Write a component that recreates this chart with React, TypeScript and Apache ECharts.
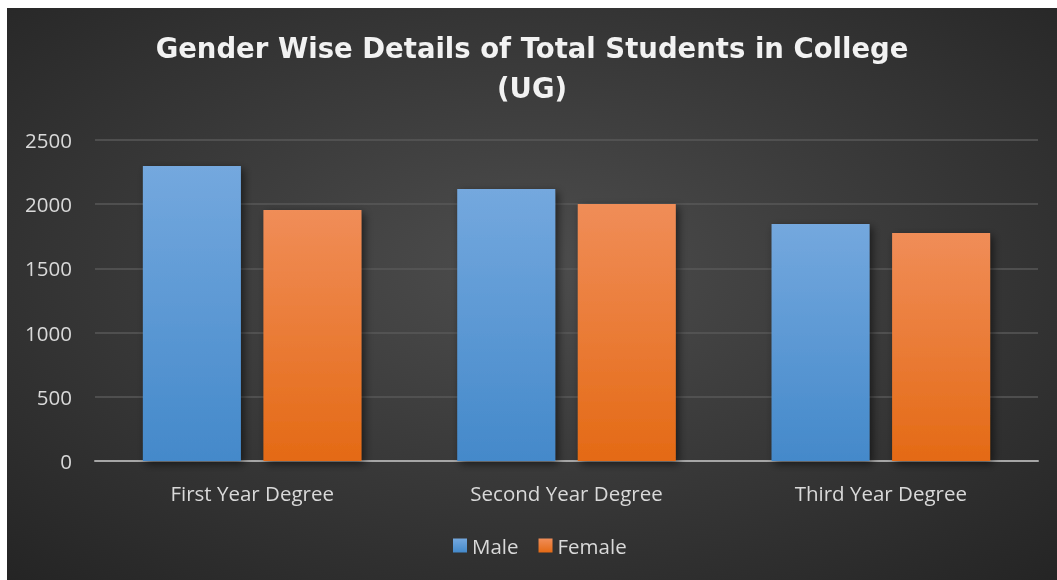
import React, { useEffect, useRef } from "react";
import * as echarts from "echarts";

const categories = ["First Year Degree", "Second Year Degree", "Third Year Degree"];
const maleValues = [2297, 2118, 1846];
const femaleValues = [1955, 2001, 1776];
const seriesNames = ["Male", "Female"];
const yTicks = [0, 500, 1000, 1500, 2000, 2500];

const labelFont = "'Open Sans', sans-serif";

export default function App() {
  const ref = useRef<HTMLDivElement>(null);
  useEffect(() => {
    if (!ref.current) return;
    const chart = echarts.init(ref.current, null, { renderer: "svg" });
    const lin = (top: string, bottom: string) =>
      new echarts.graphic.LinearGradient(0, 0, 0, 1, [
        { offset: 0, color: top },
        { offset: 1, color: bottom },
      ]);
    const shadow = {
      shadowColor: "rgba(0,0,0,0.55)",
      shadowBlur: 8,
      shadowOffsetX: 3,
      shadowOffsetY: 3,
    };
    chart.setOption({
      animation: false,
      backgroundColor: new echarts.graphic.RadialGradient(0.5, 0.45, 0.75, [
        { offset: 0, color: "#4d4d4d" },
        { offset: 1, color: "#242424" },
      ]),
      title: {
        text: "Gender Wise Details of Total Students in College\n(UG)",
        left: "center",
        top: 15,
        textStyle: {
          color: "#f2f2f2",
          fontFamily: "'DejaVu Sans', sans-serif",
          fontWeight: "bold",
          fontSize: 27.5,
          lineHeight: 40,
        },
      },
      legend: {
        data: seriesNames,
        left: 441,
        top: 522,
        itemWidth: 14,
        itemHeight: 14,
        itemGap: 20,
        icon: "rect",
        textStyle: { color: "#d9d9d9", fontSize: 20.5, fontFamily: labelFont },
      },
      grid: { left: 88, right: 19, top: 132, bottom: 119 },
      xAxis: {
        type: "category",
        data: categories,
        axisLine: { lineStyle: { color: "#a6a6a6", width: 2 } },
        axisTick: { show: false },
        axisLabel: {
          color: "#d9d9d9",
          fontSize: 20.5,
          fontFamily: labelFont,
          margin: 21,
        },
      },
      yAxis: {
        type: "value",
        min: yTicks[0],
        max: yTicks[yTicks.length - 1],
        interval: 500,
        axisLine: { show: false },
        axisTick: { show: false },
        splitLine: { lineStyle: { color: "#595959", width: 1.5 } },
        axisLabel: {
          color: "#d9d9d9",
          fontSize: 20.5,
          fontFamily: labelFont,
          margin: 23,
          formatter: (v: number) => String(v),
        },
      },
      series: [
        {
          name: seriesNames[0],
          type: "bar",
          data: maleValues,
          barWidth: 98,
          barGap: "23%",
          itemStyle: { color: lin("#74a8de", "#4489ca"), ...shadow },
        },
        {
          name: seriesNames[1],
          type: "bar",
          data: femaleValues,
          barWidth: 98,
          itemStyle: { color: lin("#f08d58", "#e46a15"), ...shadow },
        },
      ],
    });
    return () => chart.dispose();
  }, []);
  return (
    <div
      ref={ref}
      style={{ position: "fixed", left: 7, top: 8, width: 1050, height: 572 }}
    />
  );
}
